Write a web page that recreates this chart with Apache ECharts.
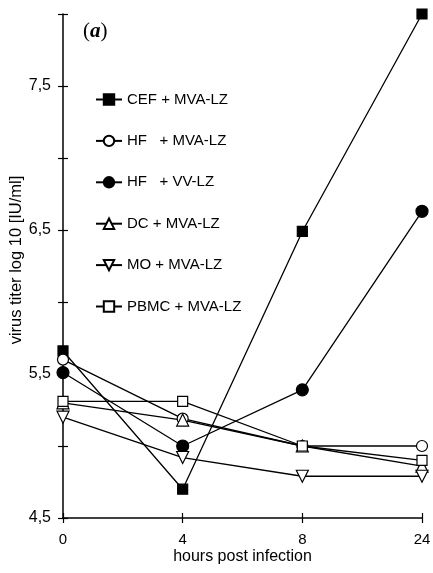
<!DOCTYPE html>
<html>
<head>
<meta charset="utf-8">
<script src="https://cdn.jsdelivr.net/npm/echarts@6/dist/echarts.min.js"></script>
<style>html,body{margin:0;padding:0;background:#fff}#c{width:433px;height:573px}</style>
</head>
<body>
<div id="c"></div>
<script>
var categories = ['0', '4', '8', '24'];
var seriesNames = ['CEF + MVA-LZ', 'HF   + MVA-LZ', 'HF   + VV-LZ', 'DC + MVA-LZ', 'MO + MVA-LZ', 'PBMC + MVA-LZ'];
var cefMva  = [5.66, 4.70, 6.49, 8.00];
var hfMva   = [5.60, 5.19, 5.00, 5.00];
var hfVv    = [5.51, 5.00, 5.39, 6.63];
var dcMva   = [5.30, 5.18, 5.00, 4.86];
var moMva   = [5.20, 4.92, 4.79, 4.79];
var pbmcMva = [5.31, 5.31, 5.00, 4.90];
var yTickLabels = ['4,5', '5,5', '6,5', '7,5'];

var FONT = 'Liberation Sans';
var chart = echarts.init(document.getElementById('c'), null, {renderer: 'canvas'});

function mk(name, data, symbol, size, filled, rotate) {
  return {
    name: name, type: 'line', data: data,
    xAxisIndex: 0, yAxisIndex: 0,
    symbol: symbol, symbolSize: size, symbolRotate: rotate || 0,
    showAllSymbol: true,
    lineStyle: {color: '#000', width: 1.3},
    itemStyle: {color: filled ? '#000' : '#fff', borderColor: '#000', borderWidth: 1.2, opacity: 1},
    emphasis: {disabled: true},
    animation: false
  };
}

var gridBox = {left: 63, right: 11, top: 14, bottom: 55, containLabel: false, outerBoundsMode: 'none'};
var tickStyle = {color: '#000', width: 1.2};

chart.setOption({
  backgroundColor: '#fff',
  animation: false,
  grid: [Object.assign({}, gridBox), Object.assign({}, gridBox)],
  legend: {
    orient: 'vertical', left: 95, top: 92, padding: 0,
    itemWidth: 26, itemHeight: 13, itemGap: 26.4,
    selectedMode: false,
    textStyle: {fontFamily: FONT, fontSize: 15, color: '#000', lineHeight: 13},
    data: seriesNames
  },
  graphic: [{
    type: 'text', left: 83, top: 21,
    style: {
      text: '{p|(}{a|a}{p|)}',
      rich: {
        p: {fontFamily: 'Liberation Serif', fontSize: 21, fill: '#000'},
        a: {fontFamily: 'Liberation Serif', fontSize: 21, fontStyle: 'italic', fontWeight: 'bold', fill: '#000'}
      }
    }
  }],
  xAxis: [{
    gridIndex: 0,
    type: 'category', data: categories, boundaryGap: false,
    name: 'hours post infection', nameLocation: 'middle', nameGap: 31, nameMoveOverlap: false,
    nameTextStyle: {fontFamily: FONT, fontSize: 16, color: '#000'},
    axisLine: {lineStyle: {color: '#000', width: 1.5}},
    axisTick: {show: true, length: 5, alignWithLabel: true, lineStyle: tickStyle},
    axisLabel: {fontFamily: FONT, fontSize: 15, color: '#000', margin: 14}
  }, {
    gridIndex: 1,
    type: 'category', data: categories, boundaryGap: false, position: 'bottom',
    axisLine: {show: false},
    axisTick: {show: true, inside: true, length: 5, alignWithLabel: true, lineStyle: tickStyle},
    axisLabel: {show: false}
  }],
  yAxis: [{
    gridIndex: 0,
    type: 'value', min: 4.5, max: 8, interval: 0.5, position: 'left',
    splitLine: {show: false},
    name: 'virus titer log 10 [IU/ml]', nameLocation: 'middle', nameGap: 38, nameMoveOverlap: false,
    nameTextStyle: {fontFamily: FONT, fontSize: 16.5, color: '#000', padding: [0, 0, 0, 12]},
    axisLine: {show: true, lineStyle: {color: '#000', width: 1.5}},
    axisTick: {show: true, length: 5, lineStyle: tickStyle},
    axisLabel: {
      fontFamily: FONT, fontSize: 16, color: '#000', margin: 12,
      formatter: function (v) {
        var s = v.toFixed(1).replace('.', ',');
        return yTickLabels.indexOf(s) >= 0 ? s : '';
      }
    }
  }, {
    gridIndex: 1,
    type: 'value', min: 4.5, max: 8, interval: 0.5, position: 'left',
    splitLine: {show: false},
    axisLine: {show: false},
    axisTick: {show: true, inside: true, length: 5, lineStyle: tickStyle},
    axisLabel: {show: false}
  }],
  series: [
    mk(seriesNames[0], cefMva, 'rect', 10, true),
    mk(seriesNames[1], hfMva, 'circle', 11, false),
    mk(seriesNames[2], hfVv, 'circle', 12, true),
    mk(seriesNames[3], dcMva, 'triangle', 12, false),
    mk(seriesNames[4], moMva, 'triangle', 12, false, 180),
    mk(seriesNames[5], pbmcMva, 'rect', 10, false)
  ]
});
</script>
</body>
</html>
